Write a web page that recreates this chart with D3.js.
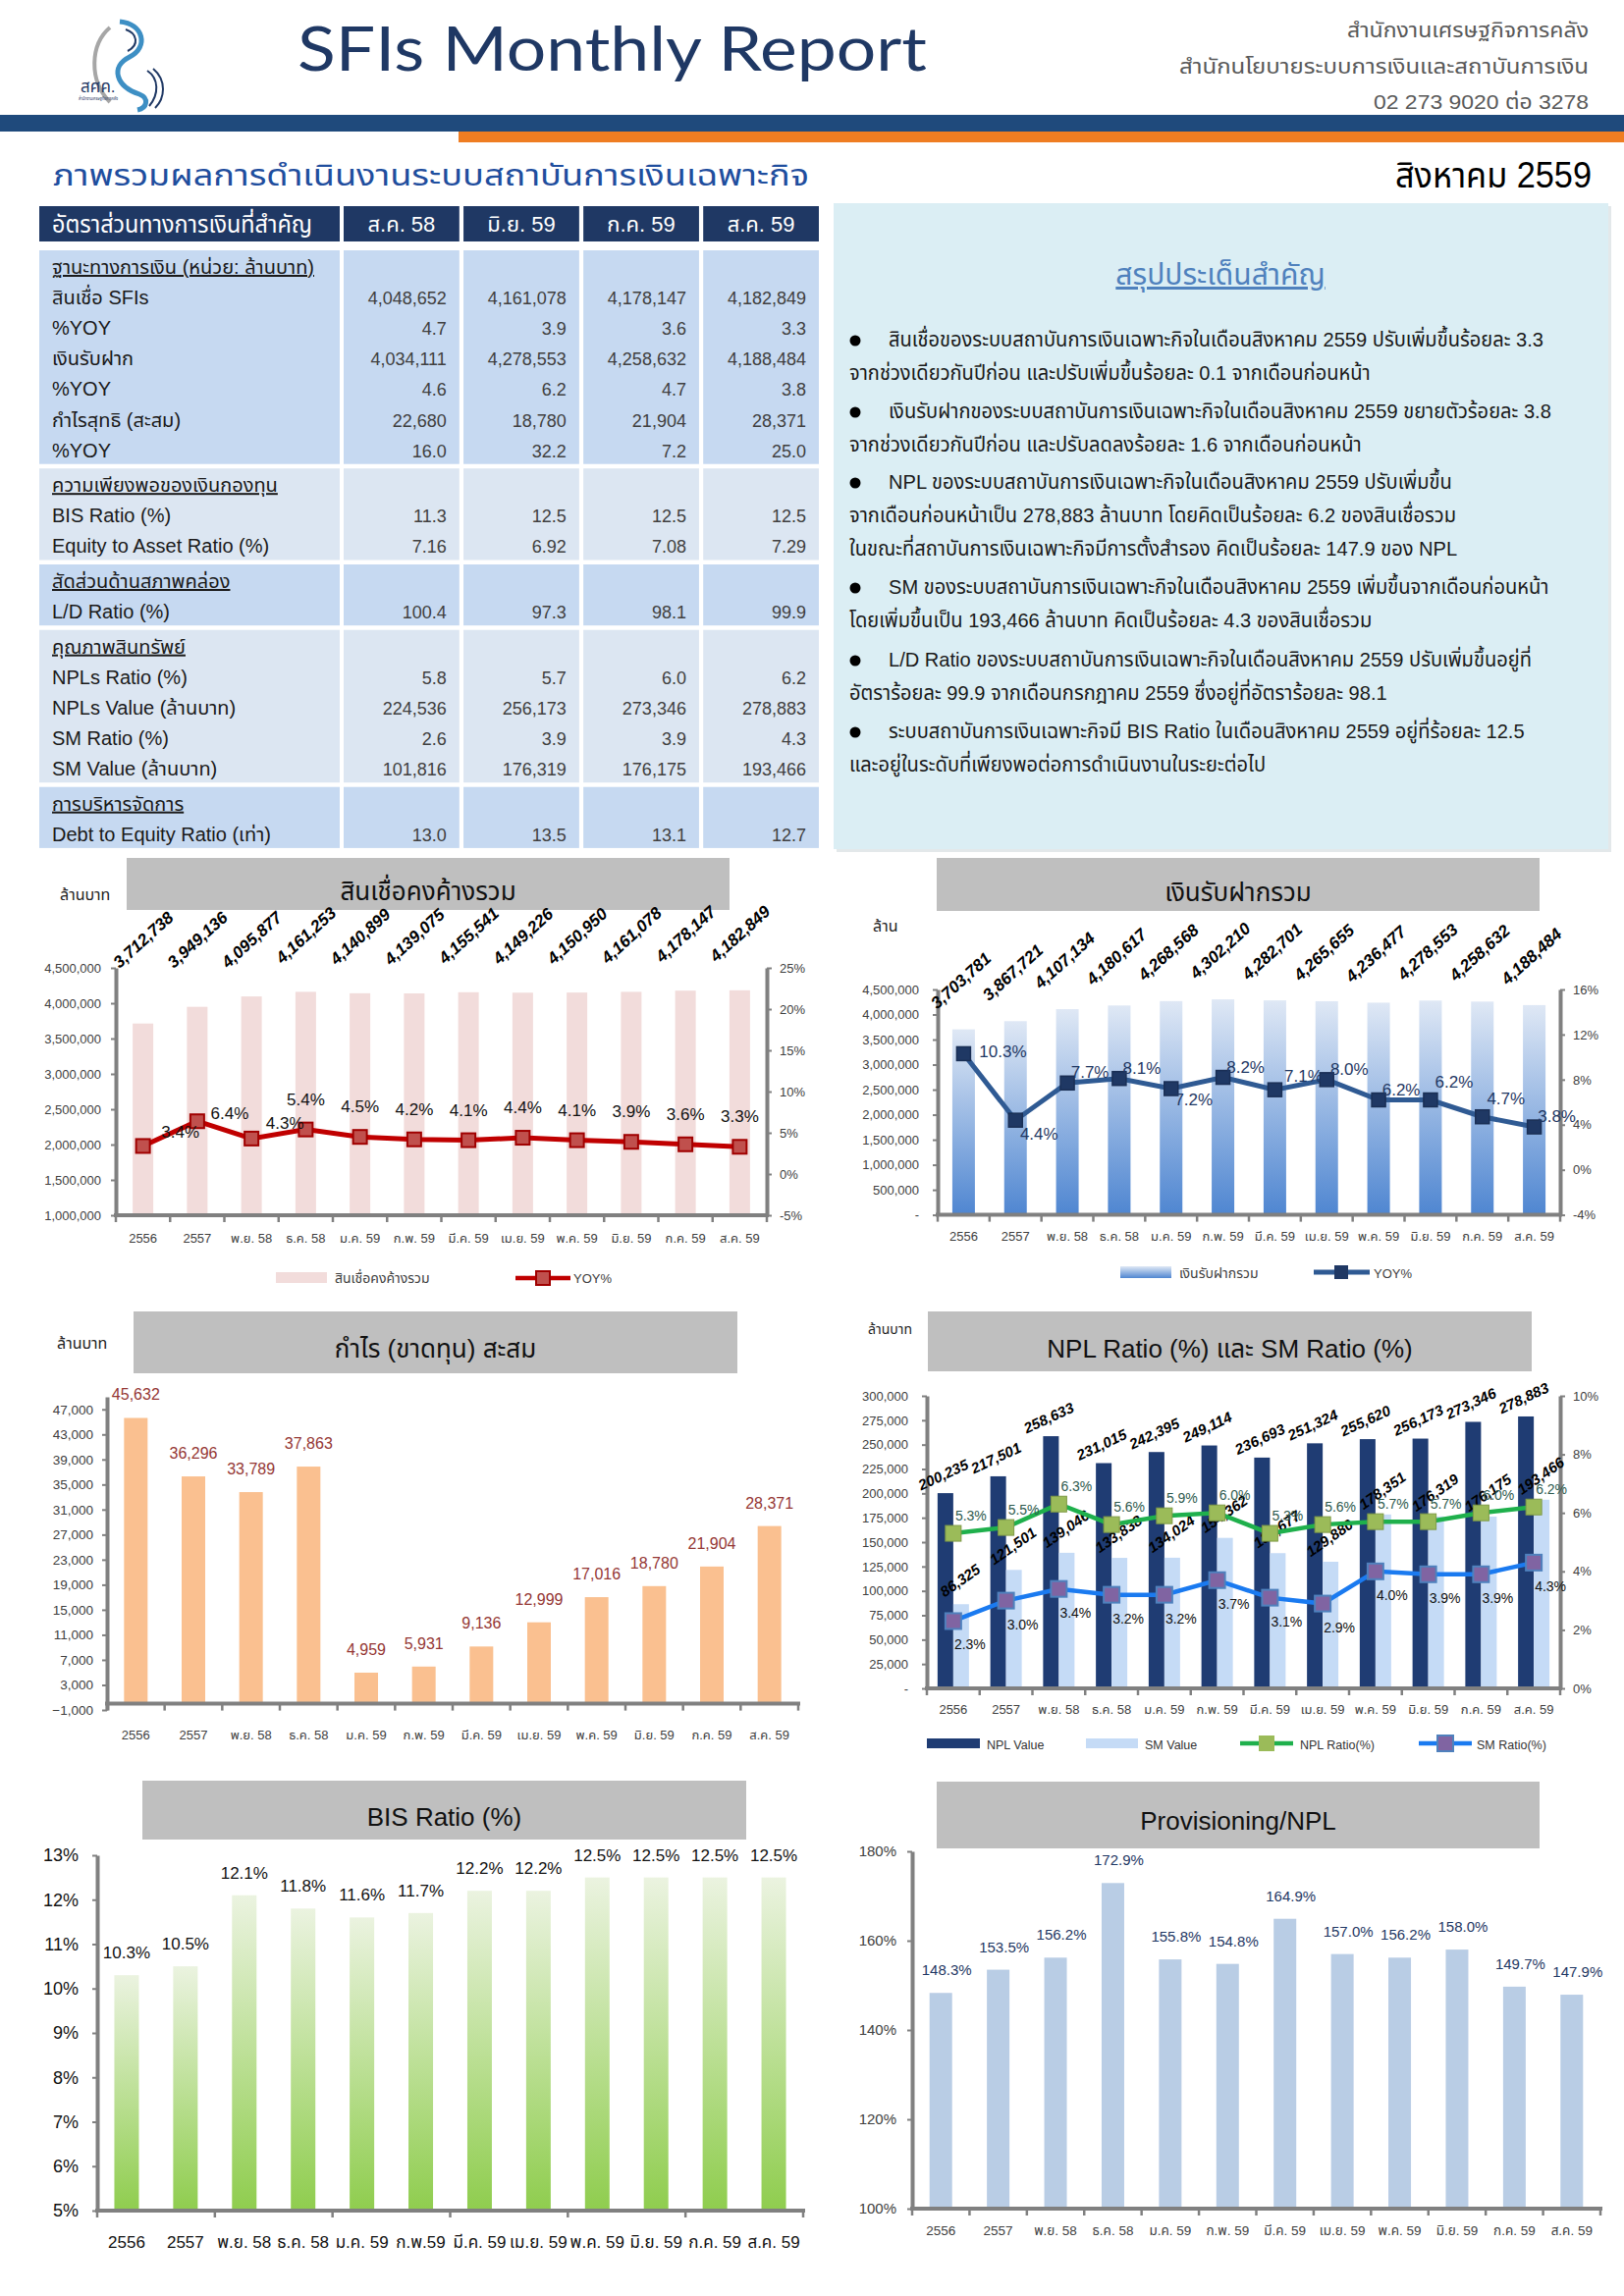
<!DOCTYPE html>
<html lang="th"><head><meta charset="utf-8">
<script src="https://cdn.jsdelivr.net/npm/d3@7"></script>
<style>
html,body{margin:0;padding:0;background:#fff;}
svg{display:block;}
text{font-family:'Liberation Sans','Noto Sans Thai','Noto Sans','DejaVu Sans',sans-serif;}
</style></head><body>
<svg id="page" width="1654" height="2339" viewBox="0 0 1654 2339"></svg>
<script>
// ---------------- DATA ----------------
const categories = ["2556","2557","พ.ย. 58","ธ.ค. 58","ม.ค. 59","ก.พ. 59","มี.ค. 59","เม.ย. 59","พ.ค. 59","มิ.ย. 59","ก.ค. 59","ส.ค. 59"];
const bisCategories = ["2556","2557","พ.ย. 58","ธ.ค. 58","ม.ค. 59","ก.พ.59","มี.ค. 59","เม.ย. 59","พ.ค. 59","มิ.ย. 59","ก.ค. 59","ส.ค. 59"];
const loans = [3712738,3949136,4095877,4161253,4140899,4139075,4155541,4149226,4150950,4161078,4178147,4182849];
const loansYoy = [3.4,6.4,4.3,5.4,4.5,4.2,4.1,4.4,4.1,3.9,3.6,3.3];
const deposits = [3703781,3867721,4107134,4180617,4268568,4302210,4282701,4265655,4236477,4278553,4258632,4188484];
const depositsYoy = [10.3,4.4,7.7,8.1,7.2,8.2,7.1,8.0,6.2,6.2,4.7,3.8];
const profit = [45632,36296,33789,37863,4959,5931,9136,12999,17016,18780,21904,28371];
const nplValue = [200235,217501,258633,231015,242395,249114,236693,251324,255620,256173,273346,278883];
const smValue = [86325,121501,139046,133838,134024,154362,138677,129880,178351,176319,176175,193466];
const nplRatio = [5.3,5.5,6.3,5.6,5.9,6.0,5.3,5.6,5.7,5.7,6.0,6.2];
const smRatio = [2.3,3.0,3.4,3.2,3.2,3.7,3.1,2.9,4.0,3.9,3.9,4.3];
const bisRatio = [10.3,10.5,12.1,11.8,11.6,11.7,12.2,12.2,12.5,12.5,12.5,12.5];
const provisionRatio = [148.3,153.5,156.2,172.9,155.8,154.8,164.9,157.0,156.2,158.0,149.7,147.9];

const loanTicks = [1000000,1500000,2000000,2500000,3000000,3500000,4000000,4500000];
const loanYoyTicks = [-5,0,5,10,15,20,25];
const depositTicks = [0,500000,1000000,1500000,2000000,2500000,3000000,3500000,4000000,4500000];
const depositYoyTicks = [-4,0,4,8,12,16];
const profitTicks = [-1000,3000,7000,11000,15000,19000,23000,27000,31000,35000,39000,43000,47000];
const nplTicks = [0,25000,50000,75000,100000,125000,150000,175000,200000,225000,250000,275000,300000];
const nplPctTicks = [0,2,4,6,8,10];
const bisTicks = [5,6,7,8,9,10,11,12,13];
const provTicks = [100,120,140,160,180];

const tableTitle = "อัตราส่วนทางการเงินที่สำคัญ";
const tableColumns = ["ส.ค. 58","มิ.ย. 59","ก.ค. 59","ส.ค. 59"];
const sectionTitles = ["ฐานะทางการเงิน (หน่วย: ล้านบาท)","ความเพียงพอของเงินกองทุน","สัดส่วนด้านสภาพคล่อง","คุณภาพสินทรัพย์","การบริหารจัดการ"];
const rowLabels = [
  ["สินเชื่อ SFIs","%YOY","เงินรับฝาก","%YOY","กำไรสุทธิ (สะสม)","%YOY"],
  ["BIS Ratio (%)","Equity to Asset Ratio (%)"],
  ["L/D Ratio (%)"],
  ["NPLs Ratio (%)","NPLs Value (ล้านบาท)","SM Ratio (%)","SM Value (ล้านบาท)"],
  ["Debt to Equity Ratio (เท่า)"]
];
const rowValues = [
  [["4,048,652","4,161,078","4,178,147","4,182,849"],["4.7","3.9","3.6","3.3"],["4,034,111","4,278,553","4,258,632","4,188,484"],["4.6","6.2","4.7","3.8"],["22,680","18,780","21,904","28,371"],["16.0","32.2","7.2","25.0"]],
  [["11.3","12.5","12.5","12.5"],["7.16","6.92","7.08","7.29"]],
  [["100.4","97.3","98.1","99.9"]],
  [["5.8","5.7","6.0","6.2"],["224,536","256,173","273,346","278,883"],["2.6","3.9","3.9","4.3"],["101,816","176,319","176,175","193,466"]],
  [["13.0","13.5","13.1","12.7"]]
];
const summaryTitle = "สรุปประเด็นสำคัญ";
const summaryBullets = [
  ["สินเชื่อของระบบสถาบันการเงินเฉพาะกิจในเดือนสิงหาคม 2559 ปรับเพิ่มขึ้นร้อยละ 3.3","จากช่วงเดียวกันปีก่อน และปรับเพิ่มขึ้นร้อยละ 0.1 จากเดือนก่อนหน้า"],
  ["เงินรับฝากของระบบสถาบันการเงินเฉพาะกิจในเดือนสิงหาคม 2559 ขยายตัวร้อยละ 3.8","จากช่วงเดียวกันปีก่อน และปรับลดลงร้อยละ 1.6 จากเดือนก่อนหน้า"],
  ["NPL ของระบบสถาบันการเงินเฉพาะกิจในเดือนสิงหาคม 2559 ปรับเพิ่มขึ้น","จากเดือนก่อนหน้าเป็น 278,883 ล้านบาท โดยคิดเป็นร้อยละ 6.2 ของสินเชื่อรวม","ในขณะที่สถาบันการเงินเฉพาะกิจมีการตั้งสำรอง คิดเป็นร้อยละ 147.9 ของ NPL"],
  ["SM  ของระบบสถาบันการเงินเฉพาะกิจในเดือนสิงหาคม 2559 เพิ่มขึ้นจากเดือนก่อนหน้า","โดยเพิ่มขึ้นเป็น 193,466 ล้านบาท คิดเป็นร้อยละ 4.3 ของสินเชื่อรวม"],
  ["L/D Ratio ของระบบสถาบันการเงินเฉพาะกิจในเดือนสิงหาคม 2559 ปรับเพิ่มขึ้นอยู่ที่","อัตราร้อยละ 99.9 จากเดือนกรกฎาคม 2559 ซึ่งอยู่ที่อัตราร้อยละ 98.1"],
  ["ระบบสถาบันการเงินเฉพาะกิจมี BIS Ratio ในเดือนสิงหาคม 2559 อยู่ที่ร้อยละ 12.5","และอยู่ในระดับที่เพียงพอต่อการดำเนินงานในระยะต่อไป"]
];

// ---------------- HELPERS ----------------
const svg = d3.select("#page");
const AX = "#808080";
function txt(p, x, y, s, o = {}) {
  const t = p.append("text").attr("x", x).attr("y", y).text(s)
    .attr("font-size", o.size || 14).attr("fill", o.fill || "#000")
    .attr("text-anchor", o.anchor || "start");
  if (o.weight) t.attr("font-weight", o.weight);
  if (o.italic) t.attr("font-style", "italic");
  if (o.len) t.attr("textLength", o.len).attr("lengthAdjust", "spacingAndGlyphs");
  if (o.under) t.style("text-decoration", "underline");
  if (o.family) t.style("font-family", o.family);
  return t;
}
function titleBox(x0, x1, y0, y1, s, base) {
  svg.append("rect").attr("x", x0).attr("y", y0).attr("width", x1 - x0).attr("height", y1 - y0).attr("fill", "#bfbfbf");
  txt(svg, (x0 + x1) / 2, base, s, {size: 26, anchor: "middle", fill: "#111"});
}
function styleAxis(g, size, color, width) {
  g.select(".domain").attr("stroke", AX).attr("stroke-width", width || 4);
  g.selectAll(".tick line").attr("stroke", AX).attr("stroke-width", 2);
  g.selectAll(".tick text").attr("font-size", size).attr("fill", color || "#404040");
}
function catAxis(g, x, cats, y0, o) {
  const r = x.range();
  g.append("line").attr("x1", r[0] - 2).attr("x2", r[1] + 2).attr("y1", y0).attr("y2", y0)
    .attr("stroke", AX).attr("stroke-width", 4);
  const bounds = cats.map(c => x(c)).concat([r[1]]).filter((b, i) => i % (o.every || 1) === 0);
  g.selectAll(null).data(bounds).join("line")
    .attr("x1", d => d).attr("x2", d => d).attr("y1", y0).attr("y2", y0 + 7)
    .attr("stroke", AX).attr("stroke-width", 2.5);
  g.selectAll(null).data(cats).join("text")
    .attr("x", c => x(c) + x.bandwidth() / 2).attr("y", y0 + o.dy)
    .attr("text-anchor", "middle").attr("font-size", o.size).attr("fill", o.fill || "#404040")
    .text(c => c);
}
const cx = (x, c) => x(c) + x.bandwidth() / 2;
const fmtNum = d3.format(",");

// ---------------- HEADER ----------------
(function header() {
  const lg = svg.append("g");
  lg.append("path").attr("d", "M112,28 C92,45 90,82 112,104").attr("fill", "none").attr("stroke", "#a6a6a6").attr("stroke-width", 4);
  lg.append("path").attr("d", "M122,22 C146,24 152,48 132,58 C112,68 118,88 142,96 C152,100 150,110 140,112").attr("fill", "none").attr("stroke", "#3d8fc4").attr("stroke-width", 5);
  lg.append("path").attr("d", "M128,30 C140,34 142,46 130,52").attr("fill", "none").attr("stroke", "#1f3864").attr("stroke-width", 2);
  lg.append("path").attr("d", "M150,72 C162,80 162,96 152,108 M156,70 C170,82 168,100 158,110").attr("fill", "none").attr("stroke", "#1f3864").attr("stroke-width", 2);
  txt(lg, 82, 94, "สศค.", {size: 17, fill: "#1f3864"});
  txt(lg, 80, 102, "สำนักงานเศรษฐกิจการคลัง", {size: 5, fill: "#1f3864", len: 40});

  txt(svg, 303, 72, "SFIs Monthly Report", {size: 62, fill: "#1f3864", len: 641, family: "Lato, 'Open Sans', 'Liberation Sans', sans-serif"});
  txt(svg, 1618, 38, "สำนักงานเศรษฐกิจการคลัง", {size: 21, fill: "#595959", anchor: "end", len: 246});
  txt(svg, 1618, 75, "สำนักนโยบายระบบการเงินและสถาบันการเงิน", {size: 21, fill: "#595959", anchor: "end", len: 417});
  txt(svg, 1618, 111, "02 273 9020 ต่อ 3278", {size: 21, fill: "#595959", anchor: "end", len: 219});

  svg.append("rect").attr("x", 0).attr("y", 117).attr("width", 1654).attr("height", 17).attr("fill", "#1f4a7c");
  svg.append("rect").attr("x", 467).attr("y", 134).attr("width", 1654 - 467).attr("height", 11).attr("fill", "#ef7d22");

  txt(svg, 54, 189, "ภาพรวมผลการดำเนินงานระบบสถาบันการเงินเฉพาะกิจ", {size: 31, fill: "#1f4e9e", len: 770});
  txt(svg, 1621, 191, "สิงหาคม 2559", {size: 36, fill: "#000", anchor: "end", len: 200});
})();

// ---------------- TABLE ----------------
(function table() {
  const g = svg.append("g");
  const col = d3.scaleBand().domain(tableColumns).range([350, 834]).paddingInner(0.035);
  const c0 = [40, 346];
  g.append("rect").attr("x", c0[0]).attr("y", 210).attr("width", c0[1] - c0[0]).attr("height", 36).attr("fill", "#1f3864");
  g.selectAll(null).data(tableColumns).join("rect").attr("x", d => col(d)).attr("y", 210)
    .attr("width", col.bandwidth()).attr("height", 36).attr("fill", "#1f3864");
  txt(g, 53, 237, tableTitle, {size: 24, fill: "#fff", len: 265});
  tableColumns.forEach(c => txt(g, col(c) + col.bandwidth() / 2, 236, c, {size: 22, fill: "#fff", anchor: "middle"}));

  const LH = 31.1, GAP = 4.5;
  let top = 255;
  sectionTitles.forEach((title, s) => {
    const n = rowLabels[s].length + 1;
    const h = n * LH;
    const fill = s % 2 === 0 ? "#c6d9f1" : "#dce6f2";
    g.append("rect").attr("x", c0[0]).attr("y", top).attr("width", c0[1] - c0[0]).attr("height", h).attr("fill", fill);
    g.selectAll(null).data(tableColumns).join("rect").attr("x", d => col(d)).attr("y", top)
      .attr("width", col.bandwidth()).attr("height", h).attr("fill", fill);
    txt(g, 53, top + 24, title, {size: 20, fill: "#1a1a1a", under: true});
    rowLabels[s].forEach((lab, r) => {
      const yb = top + 24 + (r + 1) * LH;
      txt(g, 53, yb, lab, {size: 20, fill: "#1a1a1a"});
      rowValues[s][r].forEach((v, k) => {
        txt(g, col(tableColumns[k]) + col.bandwidth() - 13, yb, v, {size: 18, fill: "#404040", anchor: "end"});
      });
    });
    top += h + GAP;
  });
})();

// ---------------- SUMMARY ----------------
(function summary() {
  const g = svg.append("g");
  g.append("rect").attr("x", 852).attr("y", 210).attr("width", 789).attr("height", 658).attr("fill", "#e3e8ea");
  g.append("rect").attr("x", 849).attr("y", 207).attr("width", 789).attr("height", 658).attr("fill", "#dbeef4");
  txt(g, 1243, 290, summaryTitle, {size: 30, fill: "#4f81bd", anchor: "middle", under: true});
  const starts = [346, 419, 491, 598, 672, 745];
  const firstTarget = 667;
  let k = null;
  summaryBullets.forEach((lines, b) => {
    g.append("circle").attr("cx", 871).attr("cy", starts[b] + 1).attr("r", 5.5).attr("fill", "#000");
    lines.forEach((line, i) => {
      const t = txt(g, i === 0 ? 905 : 865, starts[b] + i * 34 + 7, line, {size: 21, fill: "#1a1a1a"});
      const w = t.node().getComputedTextLength();
      if (k === null) k = firstTarget / w;
      t.attr("textLength", w * k).attr("lengthAdjust", "spacingAndGlyphs");
    });
  });
})();

// ---------------- CHART 1 : LOANS ----------------
(function chart1() {
  titleBox(129, 743, 874, 927, "สินเชื่อคงค้างรวม", 917);
  txt(svg, 61, 917, "ล้านบาท", {size: 16, fill: "#222"});
  const g = svg.append("g");
  const x = d3.scaleBand().domain(categories).range([118, 781]);
  const y = d3.scaleLinear().domain([1000000, 4500000]).range([1238, 986]);
  const y2 = d3.scaleLinear().domain([-5, 25]).range([1238, 986]);
  const bw = 21;
  g.selectAll(null).data(loans).join("rect")
    .attr("x", (d, i) => cx(x, categories[i]) - bw / 2).attr("y", d => y(d))
    .attr("width", bw).attr("height", d => y(1000000) - y(d)).attr("fill", "#f2dcdb");
  const la = g.append("g").attr("transform", "translate(118,0)")
    .call(d3.axisLeft(y).tickValues(loanTicks).tickFormat(fmtNum).tickSize(5).tickSizeOuter(0).tickPadding(10));
  styleAxis(la, 13);
  const ra = g.append("g").attr("transform", "translate(781,0)")
    .call(d3.axisRight(y2).tickValues(loanYoyTicks).tickFormat(d => d + "%").tickSize(5).tickSizeOuter(0).tickPadding(8));
  styleAxis(ra, 13);
  catAxis(g, x, categories, 1238, {dy: 28, size: 13});
  g.selectAll(null).data(loans).join("text")
    .attr("transform", (d, i) => `translate(${cx(x, categories[i]) - 24},${Math.min(y(d) - 28, 987)}) rotate(-42)`)
    .attr("font-size", 17).attr("font-weight", "bold").attr("font-style", "italic").attr("fill", "#000")
    .text(d => fmtNum(d));
  const line = d3.line().x((d, i) => cx(x, categories[i])).y(d => y2(d));
  g.append("path").datum(loansYoy).attr("d", line).attr("fill", "none").attr("stroke", "#c00000").attr("stroke-width", 5);
  g.selectAll(null).data(loansYoy).join("rect")
    .attr("x", (d, i) => cx(x, categories[i]) - 7).attr("y", d => y2(d) - 7).attr("width", 14).attr("height", 14)
    .attr("fill", "#c0504d").attr("stroke", "#a00000").attr("stroke-width", 2);
  const shift = (i) => i === 0 ? [38, -14] : i === 1 ? [33, -8] : i === 2 ? [34, -16] : [0, -31];
  g.selectAll(null).data(loansYoy).join("text")
    .attr("x", (d, i) => cx(x, categories[i]) + shift(i)[0]).attr("y", (d, i) => y2(d) + shift(i)[1] + 6)
    .attr("text-anchor", "middle").attr("font-size", 17).attr("fill", "#111").text(d => d.toFixed(1) + "%");
  g.append("rect").attr("x", 281).attr("y", 1296).attr("width", 52).attr("height", 11).attr("fill", "#f2dcdb");
  txt(g, 341, 1307, "สินเชื่อคงค้างรวม", {size: 14, fill: "#404040"});
  g.append("line").attr("x1", 525).attr("x2", 581).attr("y1", 1302).attr("y2", 1302).attr("stroke", "#c00000").attr("stroke-width", 4.5);
  g.append("rect").attr("x", 546).attr("y", 1295).attr("width", 14).attr("height", 14).attr("fill", "#c0504d").attr("stroke", "#a00000").attr("stroke-width", 2);
  txt(g, 584, 1307, "YOY%", {size: 13, fill: "#404040"});
})();

// ---------------- CHART 2 : DEPOSITS ----------------
(function chart2() {
  titleBox(954, 1568, 874, 928, "เงินรับฝากรวม", 918);
  txt(svg, 889, 949, "ล้าน", {size: 16, fill: "#222"});
  const defs = svg.append("defs");
  const gr = defs.append("linearGradient").attr("id", "gBlue").attr("x1", 0).attr("y1", 0).attr("x2", 0).attr("y2", 1);
  gr.append("stop").attr("offset", 0).attr("stop-color", "#dfe8f5");
  gr.append("stop").attr("offset", 1).attr("stop-color", "#4f86d1");
  const g = svg.append("g");
  const x = d3.scaleBand().domain(categories).range([955, 1589]);
  const y = d3.scaleLinear().domain([0, 4500000]).range([1237.6, 1008]);
  const y2 = d3.scaleLinear().domain([-4, 16]).range([1237.6, 1008]);
  const bw = 23;
  g.selectAll(null).data(deposits).join("rect")
    .attr("x", (d, i) => cx(x, categories[i]) - bw / 2).attr("y", d => y(d))
    .attr("width", bw).attr("height", d => y(0) - y(d)).attr("fill", "url(#gBlue)");
  const la = g.append("g").attr("transform", "translate(955,0)")
    .call(d3.axisLeft(y).tickValues(depositTicks).tickFormat(d => d === 0 ? "-" : fmtNum(d)).tickSize(5).tickSizeOuter(0).tickPadding(14));
  styleAxis(la, 13);
  const ra = g.append("g").attr("transform", "translate(1589,0)")
    .call(d3.axisRight(y2).tickValues(depositYoyTicks).tickFormat(d => d + "%").tickSize(5).tickSizeOuter(0).tickPadding(8));
  styleAxis(ra, 13);
  catAxis(g, x, categories, 1237.6, {dy: 26, size: 13});
  g.selectAll(null).data(deposits).join("text")
    .attr("transform", (d, i) => `translate(${cx(x, categories[i]) - 27},${y(d) - 20}) rotate(-42)`)
    .attr("font-size", 17).attr("font-weight", "bold").attr("font-style", "italic").attr("fill", "#000")
    .text(d => fmtNum(d));
  const line = d3.line().x((d, i) => cx(x, categories[i])).y(d => y2(d));
  g.append("path").datum(depositsYoy).attr("d", line).attr("fill", "none").attr("stroke", "#2f5a93").attr("stroke-width", 5);
  g.selectAll(null).data(depositsYoy).join("rect")
    .attr("x", (d, i) => cx(x, categories[i]) - 7).attr("y", d => y2(d) - 7).attr("width", 14).attr("height", 14)
    .attr("fill", "#1f3864").attr("stroke", "#1a2f55").attr("stroke-width", 1.5);
  const shift = (i) => i === 0 ? [40, -2] : i === 1 ? [24, 14] : i === 4 ? [23, 11] : i === 6 ? [29, -14] : i === 9 || i === 10 ? [24, -19] : [23, -11];
  g.selectAll(null).data(depositsYoy).join("text")
    .attr("x", (d, i) => cx(x, categories[i]) + shift(i)[0]).attr("y", (d, i) => y2(d) + shift(i)[1] + 6)
    .attr("text-anchor", "middle").attr("font-size", 17).attr("fill", "#1f3864").text(d => d.toFixed(1) + "%");
  g.append("rect").attr("x", 1141).attr("y", 1290).attr("width", 52).attr("height", 12).attr("fill", "url(#gBlue)");
  txt(g, 1201, 1302, "เงินรับฝากรวม", {size: 14, fill: "#404040"});
  g.append("line").attr("x1", 1338).attr("x2", 1395).attr("y1", 1296).attr("y2", 1296).attr("stroke", "#2f5a93").attr("stroke-width", 5);
  g.append("rect").attr("x", 1359).attr("y", 1289).attr("width", 14).attr("height", 14).attr("fill", "#1f3864");
  txt(g, 1399, 1302, "YOY%", {size: 13, fill: "#404040"});
})();

// ---------------- CHART 3 : PROFIT ----------------
(function chart3() {
  titleBox(136, 751, 1336, 1399, "กำไร (ขาดทุน) สะสม", 1383);
  txt(svg, 58, 1374, "ล้านบาท", {size: 16, fill: "#222"});
  const g = svg.append("g");
  const x = d3.scaleBand().domain(categories).range([109, 813]);
  const y = d3.scaleLinear().domain([-1000, 49000]).range([1742, 1423]);
  const bw = 24;
  g.selectAll(null).data(profit).join("rect")
    .attr("x", (d, i) => cx(x, categories[i]) - bw / 2).attr("y", d => y(d))
    .attr("width", bw).attr("height", d => y(0) - y(d)).attr("fill", "#fac090");
  const la = g.append("g").attr("transform", "translate(109,0)")
    .call(d3.axisLeft(y).tickValues(profitTicks).tickFormat(fmtNum).tickSize(5).tickSizeOuter(0).tickPadding(9));
  styleAxis(la, 13.5);
  catAxis(g, x, categories, y(0), {dy: 36, size: 13});
  g.selectAll(null).data(profit).join("text")
    .attr("x", (d, i) => cx(x, categories[i])).attr("y", d => y(d) - 18)
    .attr("text-anchor", "middle").attr("font-size", 16).attr("fill", "#953735").text(d => fmtNum(d));
})();

// ---------------- CHART 4 : NPL / SM ----------------
(function chart4() {
  titleBox(945, 1560, 1336, 1397, "NPL Ratio (%) และ SM Ratio (%)", 1383);
  txt(svg, 884, 1359, "ล้านบาท", {size: 14, fill: "#222"});
  const g = svg.append("g");
  const x = d3.scaleBand().domain(categories).range([944, 1589]);
  const y = d3.scaleLinear().domain([0, 300000]).range([1720, 1422]);
  const y2 = d3.scaleLinear().domain([0, 10]).range([1720, 1422]);
  const bw = 16;
  g.selectAll(null).data(nplValue).join("rect")
    .attr("x", (d, i) => cx(x, categories[i]) - bw).attr("y", d => y(d))
    .attr("width", bw).attr("height", d => y(0) - y(d)).attr("fill", "#1f3c73");
  g.selectAll(null).data(smValue).join("rect")
    .attr("x", (d, i) => cx(x, categories[i])).attr("y", d => y(d))
    .attr("width", bw).attr("height", d => y(0) - y(d)).attr("fill", "#c5dbf6");
  const la = g.append("g").attr("transform", "translate(944,0)")
    .call(d3.axisLeft(y).tickValues(nplTicks).tickFormat(d => d === 0 ? "-" : fmtNum(d)).tickSize(5).tickSizeOuter(0).tickPadding(14));
  styleAxis(la, 13);
  const ra = g.append("g").attr("transform", "translate(1589,0)")
    .call(d3.axisRight(y2).tickValues(nplPctTicks).tickFormat(d => d + "%").tickSize(5).tickSizeOuter(0).tickPadding(8));
  styleAxis(ra, 13);
  catAxis(g, x, categories, 1720, {dy: 26, size: 13});
  g.selectAll(null).data(nplValue).join("text")
    .attr("transform", (d, i) => `translate(${cx(x, categories[i]) - bw / 2},${y(d) - 14}) rotate(-25)`)
    .attr("text-anchor", "middle").attr("font-size", 15).attr("font-weight", "bold").attr("font-style", "italic").attr("fill", "#000")
    .text(d => fmtNum(d));
  g.selectAll(null).data(smValue).join("text")
    .attr("transform", (d, i) => `translate(${cx(x, categories[i]) + bw / 2 + 2},${y(d) - 20}) rotate(-35)`)
    .attr("text-anchor", "middle").attr("font-size", 15).attr("font-weight", "bold").attr("font-style", "italic").attr("fill", "#000")
    .text(d => fmtNum(d));
  const line = d3.line().x((d, i) => cx(x, categories[i])).y(d => y2(d));
  g.append("path").datum(nplRatio).attr("d", line).attr("fill", "none").attr("stroke", "#1fb04c").attr("stroke-width", 4.5);
  g.append("path").datum(smRatio).attr("d", line).attr("fill", "none").attr("stroke", "#1a7af0").attr("stroke-width", 4.5);
  g.selectAll(null).data(nplRatio).join("rect")
    .attr("x", (d, i) => cx(x, categories[i]) - 8).attr("y", d => y2(d) - 8).attr("width", 16).attr("height", 16)
    .attr("fill", "#9bbb59").attr("stroke", "#7f9a46").attr("stroke-width", 1);
  g.selectAll(null).data(smRatio).join("rect")
    .attr("x", (d, i) => cx(x, categories[i]) - 8).attr("y", d => y2(d) - 8).attr("width", 16).attr("height", 16)
    .attr("fill", "#8064a2").attr("stroke", "#4f81bd").attr("stroke-width", 2);
  g.selectAll(null).data(nplRatio).join("text")
    .attr("x", (d, i) => cx(x, categories[i]) + 18).attr("y", d => y2(d) - 13)
    .attr("text-anchor", "middle").attr("font-size", 14).attr("fill", "#2e5a4e").text(d => d.toFixed(1) + "%");
  g.selectAll(null).data(smRatio).join("text")
    .attr("x", (d, i) => cx(x, categories[i]) + 17).attr("y", d => y2(d) + 29)
    .attr("text-anchor", "middle").attr("font-size", 14).attr("fill", "#111").text(d => d.toFixed(1) + "%");
  g.append("rect").attr("x", 944).attr("y", 1771).attr("width", 54).attr("height", 10).attr("fill", "#1f3c73");
  txt(g, 1005, 1782, "NPL Value", {size: 12.5, fill: "#333"});
  g.append("rect").attr("x", 1106).attr("y", 1771).attr("width", 53).attr("height", 10).attr("fill", "#c5dbf6");
  txt(g, 1166, 1782, "SM Value", {size: 12.5, fill: "#333"});
  g.append("line").attr("x1", 1263).attr("x2", 1317).attr("y1", 1776).attr("y2", 1776).attr("stroke", "#1fb04c").attr("stroke-width", 4.5);
  g.append("rect").attr("x", 1282).attr("y", 1768).attr("width", 16).attr("height", 16).attr("fill", "#9bbb59");
  txt(g, 1324, 1782, "NPL Ratio(%)", {size: 12.5, fill: "#333"});
  g.append("line").attr("x1", 1445).attr("x2", 1499).attr("y1", 1776).attr("y2", 1776).attr("stroke", "#1a7af0").attr("stroke-width", 4.5);
  g.append("rect").attr("x", 1464).attr("y", 1768).attr("width", 16).attr("height", 16).attr("fill", "#8064a2").attr("stroke", "#4f81bd").attr("stroke-width", 2);
  txt(g, 1504, 1782, "SM Ratio(%)", {size: 12.5, fill: "#333"});
})();

// ---------------- CHART 5 : BIS ----------------
(function chart5() {
  titleBox(145, 760, 1814, 1874, "BIS Ratio (%)", 1860);
  const gr = svg.append("defs").append("linearGradient").attr("id", "gGreen").attr("x1", 0).attr("y1", 0).attr("x2", 0).attr("y2", 1);
  gr.append("stop").attr("offset", 0).attr("stop-color", "#ebf3e0");
  gr.append("stop").attr("offset", 1).attr("stop-color", "#8fcd4e");
  const g = svg.append("g");
  const x = d3.scaleBand().domain(bisCategories).range([99, 818]);
  const y = d3.scaleLinear().domain([5, 13]).range([2252, 1890]);
  const bw = 25;
  g.selectAll(null).data(bisRatio).join("rect")
    .attr("x", (d, i) => cx(x, bisCategories[i]) - bw / 2).attr("y", d => y(d))
    .attr("width", bw).attr("height", d => y(5) - y(d)).attr("fill", "url(#gGreen)");
  const la = g.append("g").attr("transform", "translate(99,0)")
    .call(d3.axisLeft(y).tickValues(bisTicks).tickFormat(d => d + "%").tickSize(5).tickSizeOuter(0).tickPadding(14));
  styleAxis(la, 18, "#111");
  catAxis(g, x, bisCategories, 2252, {dy: 38, size: 17, fill: "#111", every: 2});
  g.selectAll(null).data(bisRatio).join("text")
    .attr("x", (d, i) => cx(x, bisCategories[i])).attr("y", d => y(d) - 17)
    .attr("text-anchor", "middle").attr("font-size", 17).attr("fill", "#111").text(d => d.toFixed(1) + "%");
})();

// ---------------- CHART 6 : PROVISIONING ----------------
(function chart6() {
  titleBox(954, 1568, 1815, 1883, "Provisioning/NPL", 1864);
  const g = svg.append("g");
  const x = d3.scaleBand().domain(categories).range([929, 1630]);
  const y = d3.scaleLinear().domain([100, 180]).range([2250, 1886]);
  const bw = 23;
  g.selectAll(null).data(provisionRatio).join("rect")
    .attr("x", (d, i) => cx(x, categories[i]) - bw / 2).attr("y", d => y(d))
    .attr("width", bw).attr("height", d => y(100) - y(d)).attr("fill", "#b9cde5");
  const la = g.append("g").attr("transform", "translate(929,0)")
    .call(d3.axisLeft(y).tickValues(provTicks).tickFormat(d => d + "%").tickSize(5).tickSizeOuter(0).tickPadding(11));
  styleAxis(la, 15);
  catAxis(g, x, categories, 2250, {dy: 27, size: 13.5});
  g.selectAll(null).data(provisionRatio).join("text")
    .attr("x", (d, i) => cx(x, categories[i]) + 6).attr("y", d => y(d) - 18)
    .attr("text-anchor", "middle").attr("font-size", 15).attr("fill", "#1f3864").text(d => d.toFixed(1) + "%");
})();
</script>
</body></html>
